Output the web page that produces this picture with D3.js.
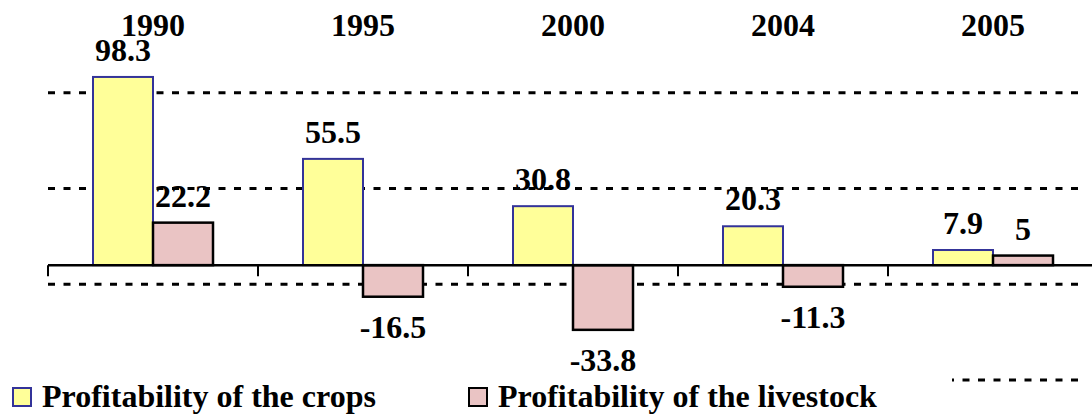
<!DOCTYPE html>
<html>
<head>
<meta charset="utf-8">
<script src="https://cdn.jsdelivr.net/npm/d3@7"></script>
<style>
  html, body { margin: 0; padding: 0; background: #fff; }
  #chart { width: 1092px; height: 414px; }
</style>
</head>
<body>
<div id="chart"></div>
<script>
// 数据
const years = ["1990", "1995", "2000", "2004", "2005"];
const crops = [98.3, 55.5, 30.8, 20.3, 7.9];
const livestock = [22.2, -16.5, -33.8, -11.3, 5];
const seriesNames = ["Profitability of the crops", "Profitability of the livestock"];
const gridValues = [-60, -10, 40, 90];

// 统一的粗体衬线字体
function serifBold(sel) {
    return sel.style("font-family", "\"Liberation Serif\"")
        .style("font-weight", "bold")
        .style("font-size", "32px");
}

function drawChart() {
    const width = 1092;
    const height = 414;

    d3.select("#chart").selectAll("*").remove();

    const svg = d3.select("#chart")
        .append("svg")
        .attr("width", width)
        .attr("height", height);

    const x = d3.scaleBand()
        .domain(years)
        .range([48, 1098]);

    const sub = d3.scaleBand()
        .domain([0, 1])
        .range([0, x.bandwidth()])
        .paddingOuter(0.75)
        .paddingInner(0);

    const y = d3.scaleLinear()
        .domain([-60, 100])
        .range([380, 73.7]);

    // 网格线
    svg.append("g")
        .selectAll("line")
        .data(gridValues)
        .enter()
        .append("line")
        .attr("x1", 48)
        .attr("x2", 1084)
        .attr("y1", d => y(d))
        .attr("y2", d => y(d))
        .attr("stroke", "#000")
        .attr("stroke-width", 3)
        .attr("stroke-dasharray", "7,8.5");

    const rows = years.map((yr, i) => ({ year: yr, values: [crops[i], livestock[i]] }));
    const fills = ["#ffff99", "#eac4c4"];
    const strokes = ["#333399", "#000"];

    // 图例背景 (盖住最下面的网格线)
    svg.append("rect")
        .attr("x", 0)
        .attr("y", 374)
        .attr("width", 952)
        .attr("height", 40)
        .attr("fill", "#fff");

    // 柱子
    const groups = svg.selectAll(".cat")
        .data(rows)
        .enter()
        .append("g")
        .attr("class", "cat")
        .attr("transform", d => `translate(${x(d.year)},0)`);

    groups.selectAll("rect")
        .data(d => d.values.map((v, k) => ({ v, k })))
        .enter()
        .append("rect")
        .attr("x", d => sub(d.k))
        .attr("width", sub.bandwidth())
        .attr("y", d => y(Math.max(0, d.v)))
        .attr("height", d => Math.abs(y(d.v) - y(0)))
        .attr("fill", d => fills[d.k])
        .attr("stroke", d => strokes[d.k])
        .attr("stroke-width", d => d.k === 0 ? 2 : 2.5);

    // 数值标签
    groups.selectAll("text.val")
        .data(d => d.values.map((v, k) => ({ v, k })))
        .enter()
        .append("text")
        .attr("class", "val")
        .attr("x", d => sub(d.k) + sub.bandwidth() / 2)
        .attr("y", d => d.v >= 0 ? y(d.v) - 16 : y(d.v) + 41)
        .attr("text-anchor", "middle")
        .attr("fill", "#000")
        .call(serifBold)
        .text(d => d.v);

    // 零轴 + 刻度
    const axis = svg.append("g")
        .attr("transform", `translate(0,${y(0)})`);
    axis.append("line")
        .attr("x1", 48)
        .attr("x2", width)
        .attr("stroke", "#000")
        .attr("stroke-width", 2.5);
    axis.selectAll(".sep")
        .data(years)
        .enter()
        .append("line")
        .attr("class", "sep")
        .attr("x1", d => x(d))
        .attr("x2", d => x(d))
        .attr("y1", 0)
        .attr("y2", 11)
        .attr("stroke", "#000")
        .attr("stroke-width", 2);

    // 年份标签 (顶部)
    svg.append("g")
        .selectAll("text")
        .data(years)
        .enter()
        .append("text")
        .attr("x", d => x(d) + x.bandwidth() / 2)
        .attr("y", 36)
        .attr("text-anchor", "middle")
        .call(serifBold)
        .text(d => d);

    // 图例
    const legendX = [12, 468];
    seriesNames.forEach((name, i) => {
        const item = svg.append("g")
            .attr("transform", `translate(${legendX[i]},387)`);
        item.append("rect")
            .attr("x", 1)
            .attr("y", 1)
            .attr("width", 18)
            .attr("height", 18)
            .attr("fill", fills[i])
            .attr("stroke", strokes[i])
            .attr("stroke-width", 2);
        item.append("text")
            .attr("x", 30)
            .attr("y", 20)
            .call(serifBold)
            .text(name);
    });
}

drawChart();
</script>
</body>
</html>
